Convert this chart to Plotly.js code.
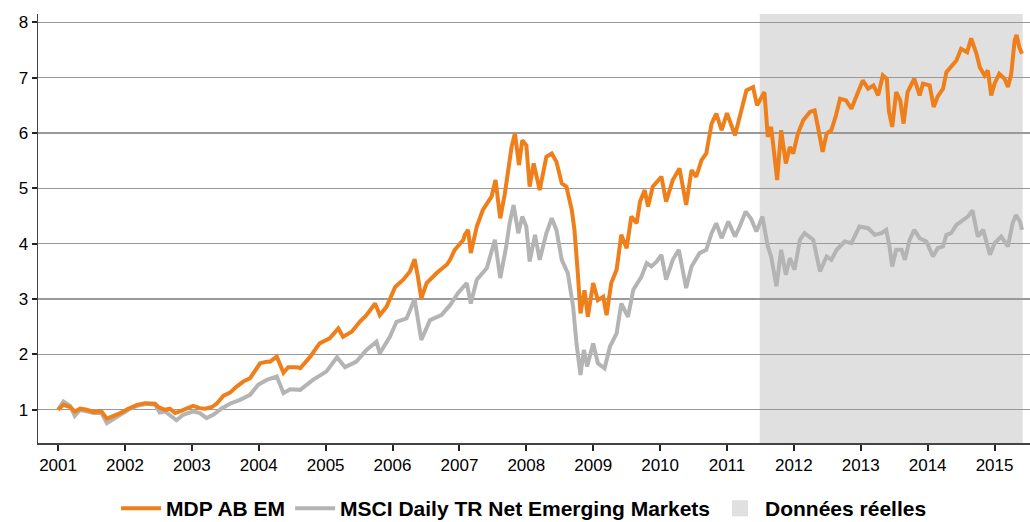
<!DOCTYPE html>
<html>
<head>
<meta charset="utf-8">
<script src="https://cdn.plot.ly/plotly-3.0.1.min.js"></script>
<style>html,body{margin:0;padding:0;background:#fff;}#chart{width:1030px;height:522px;}</style>
</head>
<body>
<div id="chart"></div>
<script>
// Series names
const seriesNames = ["MDP AB EM", "MSCI Daily TR Net Emerging Markets", "Données réelles"];

// MDP AB EM (decimal year, value)
const mdpYears = [2001.00,2001.08,2001.18,2001.25,2001.33,2001.43,2001.53,2001.65,2001.73,2001.80,2001.93,2002.05,2002.18,2002.30,2002.45,2002.50,2002.60,2002.67,2002.75,2002.82,2002.92,2003.02,2003.12,2003.20,2003.30,2003.37,2003.47,2003.57,2003.67,2003.77,2003.87,2003.94,2004.02,2004.12,2004.17,2004.27,2004.37,2004.44,2004.57,2004.62,2004.77,2004.91,2005.06,2005.19,2005.26,2005.39,2005.51,2005.61,2005.74,2005.81,2005.91,2006.04,2006.16,2006.26,2006.33,2006.38,2006.43,2006.51,2006.66,2006.81,2006.86,2006.93,2007.06,2007.08,2007.13,2007.17,2007.26,2007.35,2007.48,2007.54,2007.61,2007.68,2007.73,2007.78,2007.83,2007.89,2007.94,2008.00,2008.05,2008.11,2008.20,2008.30,2008.38,2008.45,2008.53,2008.60,2008.68,2008.72,2008.77,2008.81,2008.87,2008.92,2009.00,2009.07,2009.15,2009.20,2009.27,2009.35,2009.42,2009.50,2009.57,2009.65,2009.70,2009.77,2009.82,2009.89,2010.02,2010.09,2010.19,2010.29,2010.39,2010.47,2010.54,2010.62,2010.69,2010.77,2010.84,2010.92,2011.00,2011.12,2011.19,2011.29,2011.34,2011.39,2011.45,2011.56,2011.61,2011.66,2011.70,2011.75,2011.81,2011.88,2011.94,2011.99,2012.06,2012.14,2012.24,2012.31,2012.36,2012.43,2012.49,2012.56,2012.63,2012.69,2012.78,2012.86,2012.96,2013.03,2013.11,2013.19,2013.26,2013.33,2013.39,2013.42,2013.47,2013.53,2013.59,2013.64,2013.70,2013.80,2013.88,2013.93,2014.03,2014.09,2014.15,2014.23,2014.28,2014.35,2014.43,2014.50,2014.59,2014.65,2014.73,2014.78,2014.85,2014.90,2014.95,2015.00,2015.07,2015.15,2015.20,2015.25,2015.30,2015.33,2015.37,2015.41];
const mdpValues = [1.00,1.09,1.05,0.97,1.02,1.00,0.96,0.97,0.84,0.87,0.94,1.02,1.09,1.12,1.11,1.05,1.00,1.02,0.94,0.97,1.02,1.07,1.03,1.02,1.05,1.11,1.25,1.31,1.42,1.51,1.57,1.69,1.84,1.87,1.87,1.96,1.67,1.77,1.77,1.75,1.96,2.20,2.29,2.47,2.32,2.41,2.59,2.71,2.92,2.71,2.86,3.22,3.35,3.50,3.72,3.40,3.01,3.29,3.47,3.62,3.71,3.89,4.07,4.16,4.25,3.83,4.31,4.61,4.85,5.15,4.46,4.91,5.33,5.75,5.99,5.42,5.87,5.78,5.03,5.45,4.97,5.57,5.63,5.48,5.09,5.03,4.61,4.25,3.47,2.74,3.16,2.68,3.29,2.98,3.04,2.71,3.29,3.53,4.16,3.92,4.49,4.37,4.76,4.97,4.67,5.03,5.21,4.76,5.15,5.36,4.70,5.33,5.21,5.51,5.63,6.17,6.35,6.05,6.36,5.96,6.29,6.77,6.80,6.83,6.50,6.74,5.93,6.11,5.69,5.15,6.05,5.45,5.75,5.63,5.99,6.23,6.38,6.41,6.11,5.66,5.99,6.05,6.32,6.62,6.59,6.44,6.74,6.95,6.80,6.86,6.68,7.04,6.98,6.40,6.11,6.74,6.59,6.17,6.74,6.98,6.68,6.89,6.86,6.47,6.66,6.80,7.10,7.19,7.31,7.52,7.46,7.71,7.43,7.19,7.04,7.13,6.68,6.89,7.07,6.98,6.83,7.07,7.67,7.77,7.55,7.43];

// MSCI Daily TR Net Emerging Markets (decimal year, value)
const msciYears = [2001.00,2001.08,2001.18,2001.25,2001.33,2001.53,2001.65,2001.73,2001.93,2002.05,2002.18,2002.33,2002.45,2002.52,2002.60,2002.67,2002.77,2002.87,2003.02,2003.12,2003.22,2003.32,2003.45,2003.57,2003.72,2003.87,2003.99,2004.12,2004.27,2004.37,2004.47,2004.62,2004.81,2005.01,2005.17,2005.29,2005.46,2005.61,2005.76,2005.81,2005.96,2006.06,2006.21,2006.33,2006.43,2006.56,2006.73,2006.86,2006.98,2007.11,2007.17,2007.26,2007.41,2007.53,2007.61,2007.70,2007.75,2007.81,2007.88,2007.94,2008.00,2008.05,2008.13,2008.20,2008.30,2008.38,2008.45,2008.53,2008.62,2008.70,2008.75,2008.81,2008.86,2008.91,2009.00,2009.07,2009.17,2009.25,2009.35,2009.42,2009.52,2009.60,2009.72,2009.80,2009.87,2009.95,2010.02,2010.09,2010.19,2010.28,2010.39,2010.47,2010.59,2010.69,2010.77,2010.84,2010.92,2011.02,2011.12,2011.19,2011.28,2011.36,2011.44,2011.53,2011.61,2011.66,2011.74,2011.81,2011.88,2011.94,2012.01,2012.09,2012.16,2012.29,2012.39,2012.49,2012.56,2012.64,2012.76,2012.86,2012.98,2013.11,2013.21,2013.31,2013.38,2013.43,2013.47,2013.53,2013.61,2013.66,2013.73,2013.80,2013.88,2013.98,2014.08,2014.15,2014.23,2014.28,2014.35,2014.43,2014.53,2014.60,2014.67,2014.75,2014.83,2014.93,2015.00,2015.10,2015.20,2015.27,2015.32,2015.38,2015.41];
const msciValues = [1.00,1.15,1.07,0.89,1.00,0.94,0.94,0.76,0.91,1.00,1.07,1.11,1.09,0.95,0.97,0.91,0.81,0.91,0.97,0.94,0.85,0.91,1.03,1.11,1.18,1.27,1.45,1.54,1.60,1.30,1.37,1.36,1.54,1.69,1.95,1.77,1.87,2.08,2.23,2.02,2.32,2.59,2.65,3.00,2.26,2.62,2.71,2.89,3.11,3.29,2.92,3.35,3.56,4.07,3.38,3.95,4.37,4.70,4.19,4.49,4.31,3.68,4.16,3.71,4.19,4.46,4.25,3.71,3.47,2.86,2.20,1.63,2.08,1.78,2.20,1.84,1.75,2.14,2.38,2.92,2.68,3.17,3.40,3.65,3.59,3.68,3.80,3.35,3.71,3.89,3.20,3.59,3.83,3.89,4.19,4.37,4.10,4.40,4.13,4.31,4.58,4.45,4.22,4.49,3.95,3.77,3.23,3.89,3.44,3.74,3.53,4.07,4.19,4.07,3.50,3.77,3.71,3.89,4.04,4.01,4.31,4.28,4.16,4.19,4.25,3.95,3.59,3.89,3.89,3.71,4.07,4.25,4.10,4.04,3.77,3.92,3.95,4.16,4.19,4.34,4.43,4.49,4.60,4.13,4.25,3.80,4.01,4.13,3.95,4.37,4.52,4.40,4.25];

// Real-data period (shaded)
const realStart = 2011.49;
const realEnd = 2015.42;

// Axis ticks
const xTicks = [2001,2002,2003,2004,2005,2006,2007,2008,2009,2010,2011,2012,2013,2014,2015];
const xTickLabels = xTicks.map(String);
const yTicks = [1,2,3,4,5,6,7,8];

const orange = "#ee7f1a";
const grey = "#b4b4b4";

const traces = [
  {x: msciYears, y: msciValues, type: "scatter", mode: "lines", name: seriesNames[1],
   line: {color: grey, width: 4}, legendrank: 2},
  {x: mdpYears, y: mdpValues, type: "scatter", mode: "lines", name: seriesNames[0],
   line: {color: orange, width: 4}, legendrank: 1},
  {x: [null], y: [null], type: "scatter", mode: "markers", name: seriesNames[2],
   marker: {symbol: "square", size: 22, color: "#e0e0e0"}, legendrank: 3}
];

const layout = {
  width: 1030, height: 522,
  margin: {l: 38, r: 0, t: 14, b: 79, autoexpand: false},
  paper_bgcolor: "#fff", plot_bgcolor: "#fff",
  font: {family: "Arial, Liberation Sans, sans-serif", size: 17, color: "#000"},
  showlegend: true,
  legend: {orientation: "h", x: 0.49, xanchor: "center", y: -0.153, yanchor: "middle",
           font: {size: 21, color: "#000", family: "Arial, Liberation Sans, sans-serif", weight: "bold"},
           itemwidth: 40, tracegroupgap: 0, traceorder: "normal"},
  xaxis: {range: [2000.70, 2015.53], tickvals: xTicks, ticktext: xTickLabels,
          showgrid: false, zeroline: false, showline: true, linecolor: "#444", linewidth: 1.5,
          ticks: "outside", ticklen: 6, tickwidth: 2, tickcolor: "#222",
          tickfont: {size: 17, color: "#000"}},
  yaxis: {range: [0.40, 8.15], tickvals: yTicks,
          showgrid: true, gridcolor: "#999", gridwidth: 1.2, zeroline: false,
          showline: true, linecolor: "#444", linewidth: 1.5,
          ticks: "outside", ticklen: 5, tickwidth: 2, tickcolor: "#222",
          tickfont: {size: 17, color: "#000"}},
  shapes: [{type: "rect", xref: "x", yref: "paper", x0: realStart, x1: realEnd, y0: 0, y1: 1,
            fillcolor: "rgba(214,214,214,0.75)", line: {width: 0}, layer: "between"}]
};

Plotly.newPlot("chart", traces, layout, {staticPlot: true, displayModeBar: false});
</script>
</body>
</html>
